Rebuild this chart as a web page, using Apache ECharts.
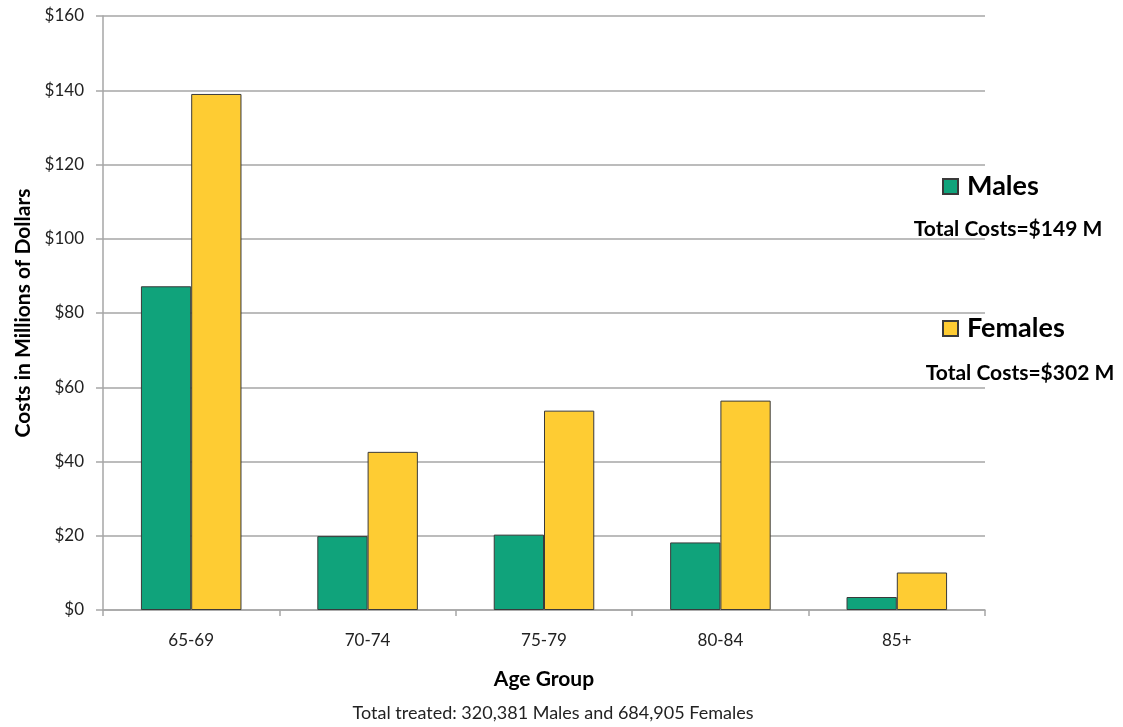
<!DOCTYPE html>
<html>
<head>
<meta charset="utf-8">
<title>Costs by Age Group</title>
<script src="https://cdn.jsdelivr.net/npm/echarts@6/dist/echarts.min.js"></script>
<style>
  html, body { margin: 0; padding: 0; background: #ffffff; }
  #chart { width: 1123px; height: 727px; }
</style>
</head>
<body>
<div id="chart"></div>
<script>
// Age groups on the x axis
const ageGroups = ['65-69', '70-74', '75-79', '80-84', '85+'];
// Costs in millions of dollars
const maleCosts = [87.2, 19.9, 20.3, 18.2, 3.5];
const femaleCosts = [139.0, 42.6, 53.7, 56.4, 10.1];
// Totals shown beside the legend
const totalLabels = ['Total Costs=$149 M', 'Total Costs=$302 M'];
const footnote = 'Total treated: 320,381 Males and 684,905 Females';

const FONT = 'Lato, "Open Sans", sans-serif';
const chart = echarts.init(document.getElementById('chart'), null, { renderer: 'canvas' });

const legendText = { fontSize: 27, fontWeight: 'bold', color: '#000', fontFamily: FONT, padding: [0, 0, 0, 4] };

const option = {
  backgroundColor: '#ffffff',
  animation: false,
  textStyle: { fontFamily: FONT },
  grid: { left: 103, right: 138, top: 16, bottom: 117, containLabel: false },
  legend: [
    {
      data: ['Males'], orient: 'vertical', left: 937, top: 168,
      icon: 'rect', itemWidth: 15, itemHeight: 15, itemGap: 0,
      textStyle: legendText
    },
    {
      data: ['Females'], orient: 'vertical', left: 937, top: 310,
      icon: 'rect', itemWidth: 15, itemHeight: 15, itemGap: 0,
      textStyle: legendText
    }
  ],
  xAxis: {
    type: 'category',
    data: ageGroups,
    name: 'Age Group',
    nameLocation: 'middle',
    nameGap: 59,
    nameTextStyle: { fontSize: 21, fontWeight: 'bold', color: '#000', fontFamily: FONT },
    axisLine: { lineStyle: { color: '#a6a6a6', width: 1.5 } },
    axisTick: { show: true, length: 6, lineStyle: { color: '#a6a6a6', width: 1.5 } },
    axisLabel: { fontSize: 17, color: '#222', margin: 22, fontFamily: FONT }
  },
  yAxis: {
    type: 'value',
    min: 0, max: 160, interval: 20,
    name: 'Costs in Millions of Dollars',
    nameLocation: 'middle',
    nameGap: 69,
    nameTextStyle: { fontSize: 21, fontWeight: 'bold', color: '#000', fontFamily: FONT },
    axisLine: { show: true, lineStyle: { color: '#a6a6a6', width: 1.5 } },
    axisTick: { show: true, inside: false, length: 7, lineStyle: { color: '#a6a6a6', width: 1.5 } },
    axisLabel: {
      fontSize: 17, color: '#222', margin: 19, fontFamily: FONT,
      formatter: v => '$' + v
    },
    splitLine: { show: true, lineStyle: { color: '#a6a6a6', width: 1.5 } }
  },
  series: [
    {
      name: 'Males', type: 'bar', data: maleCosts,
      barGap: '0%', barCategoryGap: '43%',
      itemStyle: { color: '#10a37b', borderColor: '#3a3a3a', borderWidth: 1 }
    },
    {
      name: 'Females', type: 'bar', data: femaleCosts,
      barGap: '0%', barCategoryGap: '43%',
      itemStyle: { color: '#fecc33', borderColor: '#3a3a3a', borderWidth: 1 }
    }
  ],
  graphic: [
    {
      type: 'text', x: 1008, y: 229,
      style: { text: totalLabels[0], font: 'bold 21px ' + FONT, fill: '#000', textAlign: 'center', textVerticalAlign: 'middle' }
    },
    {
      type: 'text', x: 1020, y: 373,
      style: { text: totalLabels[1], font: 'bold 21px ' + FONT, fill: '#000', textAlign: 'center', textVerticalAlign: 'middle' }
    },
    {
      type: 'text', x: 553, y: 713,
      style: { text: footnote, font: '18px ' + FONT, fill: '#222', textAlign: 'center', textVerticalAlign: 'middle' }
    }
  ]
};

chart.setOption(option);
</script>
</body>
</html>
